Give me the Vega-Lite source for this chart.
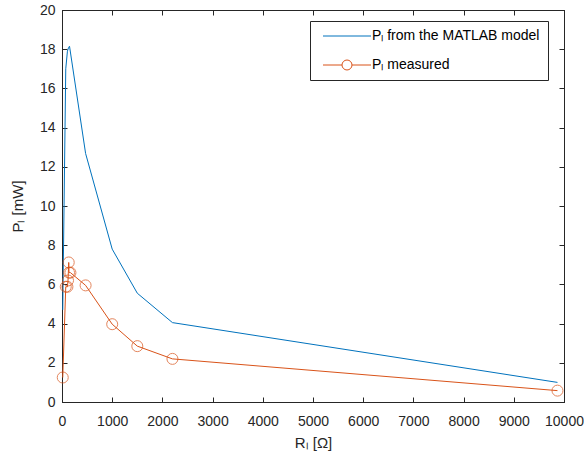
{
  "$schema": "https://vega.github.io/schema/vega-lite/v6.json",
  "autosize": "none",
  "width": 502,
  "height": 392,
  "padding": {"left": 62, "top": 10, "right": 20, "bottom": 56},
  "background": "white",
  "config": {
    "font": "Liberation Sans",
    "view": {"stroke": "#262626", "strokeWidth": 1},
    "axis": {"grid": false, "domainColor": "#262626", "tickColor": "#262626", "labelColor": "#262626", "titleColor": "#262626", "labelFont": "Liberation Sans", "titleFont": "Liberation Sans", "labelFontSize": 14, "titleFontSize": 15, "titleFontWeight": "normal", "domainWidth": 1, "tickWidth": 1}
  },
  "data": {"values": [
    {"R": 15, "P": 4.7, "series": "Pₗ from the MATLAB model"},
    {"R": 75, "P": 17.0, "series": "Pₗ from the MATLAB model"},
    {"R": 108, "P": 17.9, "series": "Pₗ from the MATLAB model"},
    {"R": 120, "P": 18.0, "series": "Pₗ from the MATLAB model"},
    {"R": 134, "P": 18.1, "series": "Pₗ from the MATLAB model"},
    {"R": 150, "P": 18.15, "series": "Pₗ from the MATLAB model"},
    {"R": 470, "P": 12.68, "series": "Pₗ from the MATLAB model"},
    {"R": 1000, "P": 7.8, "series": "Pₗ from the MATLAB model"},
    {"R": 1500, "P": 5.55, "series": "Pₗ from the MATLAB model"},
    {"R": 2200, "P": 4.05, "series": "Pₗ from the MATLAB model"},
    {"R": 9870, "P": 1.0, "series": "Pₗ from the MATLAB model"},
    {"R": 15, "P": 1.25, "series": "Pₗ measured"},
    {"R": 75, "P": 5.88, "series": "Pₗ measured"},
    {"R": 108, "P": 5.88, "series": "Pₗ measured"},
    {"R": 120, "P": 6.2, "series": "Pₗ measured"},
    {"R": 134, "P": 7.12, "series": "Pₗ measured"},
    {"R": 140, "P": 6.6, "series": "Pₗ measured"},
    {"R": 168, "P": 6.6, "series": "Pₗ measured"},
    {"R": 470, "P": 5.95, "series": "Pₗ measured"},
    {"R": 1000, "P": 3.97, "series": "Pₗ measured"},
    {"R": 1500, "P": 2.85, "series": "Pₗ measured"},
    {"R": 2200, "P": 2.2, "series": "Pₗ measured"},
    {"R": 9870, "P": 0.58, "series": "Pₗ measured"}
  ]},
  "layer": [
    {
      "mark": {"type": "line", "strokeWidth": 1, "clip": true},
      "encoding": {
        "x": {"field": "R", "type": "quantitative", "scale": {"domain": [0, 10000], "nice": false},
              "axis": {"orient": "bottom", "values": [0,1000,2000,3000,4000,5000,6000,7000,8000,9000,10000], "format": "d", "tickSize": -5, "labelPadding": 17, "title": "Rₗ [Ω]", "titlePadding": 7, "labelFlush": false}},
        "y": {"field": "P", "type": "quantitative", "scale": {"domain": [0, 20], "nice": false},
              "axis": {"orient": "left", "values": [0,2,4,6,8,10,12,14,16,18,20], "tickSize": -5, "labelPadding": 12, "title": "Pₗ [mW]", "titlePadding": 14}},
        "color": {"field": "series", "type": "nominal",
                  "scale": {"domain": ["Pₗ from the MATLAB model", "Pₗ measured"], "range": ["#0072BD", "#D95319"]},
                  "legend": {"orient": "none", "legendX": 248, "legendY": 11, "title": null,
                             "strokeColor": "#262626", "fillColor": "white", "padding": 8,
                             "labelFont": "Liberation Sans", "labelFontSize": 14, "labelColor": "#000000", "labelLimit": 400,
                             "symbolSize": 144, "symbolStrokeWidth": 1, "rowPadding": 15, "labelOffset": 18, "symbolOffset": 22,
                             "encode": {"symbols": {"update": {
                               "shape": {"signal": "datum.value === 'Pₗ measured' ? 'M-4,0H-0.833M0.833,0H4M0.833,0A0.833,0.833 0 1,0 -0.833,0A0.833,0.833 0 1,0 0.833,0' : 'M-4,0H4'"},
                               "fill": {"value": "transparent"}
                             }}}},
                  "sort": null},
        "order": {"field": "R", "type": "quantitative"}
      }
    },
    {
      "mark": {"type": "point", "shape": "circle", "filled": false, "size": 121, "strokeWidth": 1, "color": "#D95319"},
      "transform": [{"filter": "datum.series === 'Pₗ measured'"}],
      "encoding": {
        "x": {"field": "R", "type": "quantitative", "scale": {"domain": [0, 10000], "nice": false},
              "axis": {"orient": "top", "values": [0,1000,2000,3000,4000,5000,6000,7000,8000,9000,10000], "tickSize": -5, "labels": false, "title": null}},
        "y": {"field": "P", "type": "quantitative", "scale": {"domain": [0, 20], "nice": false},
              "axis": {"orient": "right", "values": [0,2,4,6,8,10,12,14,16,18,20], "tickSize": -5, "labels": false, "title": null}}
      }
    }
  ],
  "resolve": {"axis": {"x": "independent", "y": "independent"}}
}
